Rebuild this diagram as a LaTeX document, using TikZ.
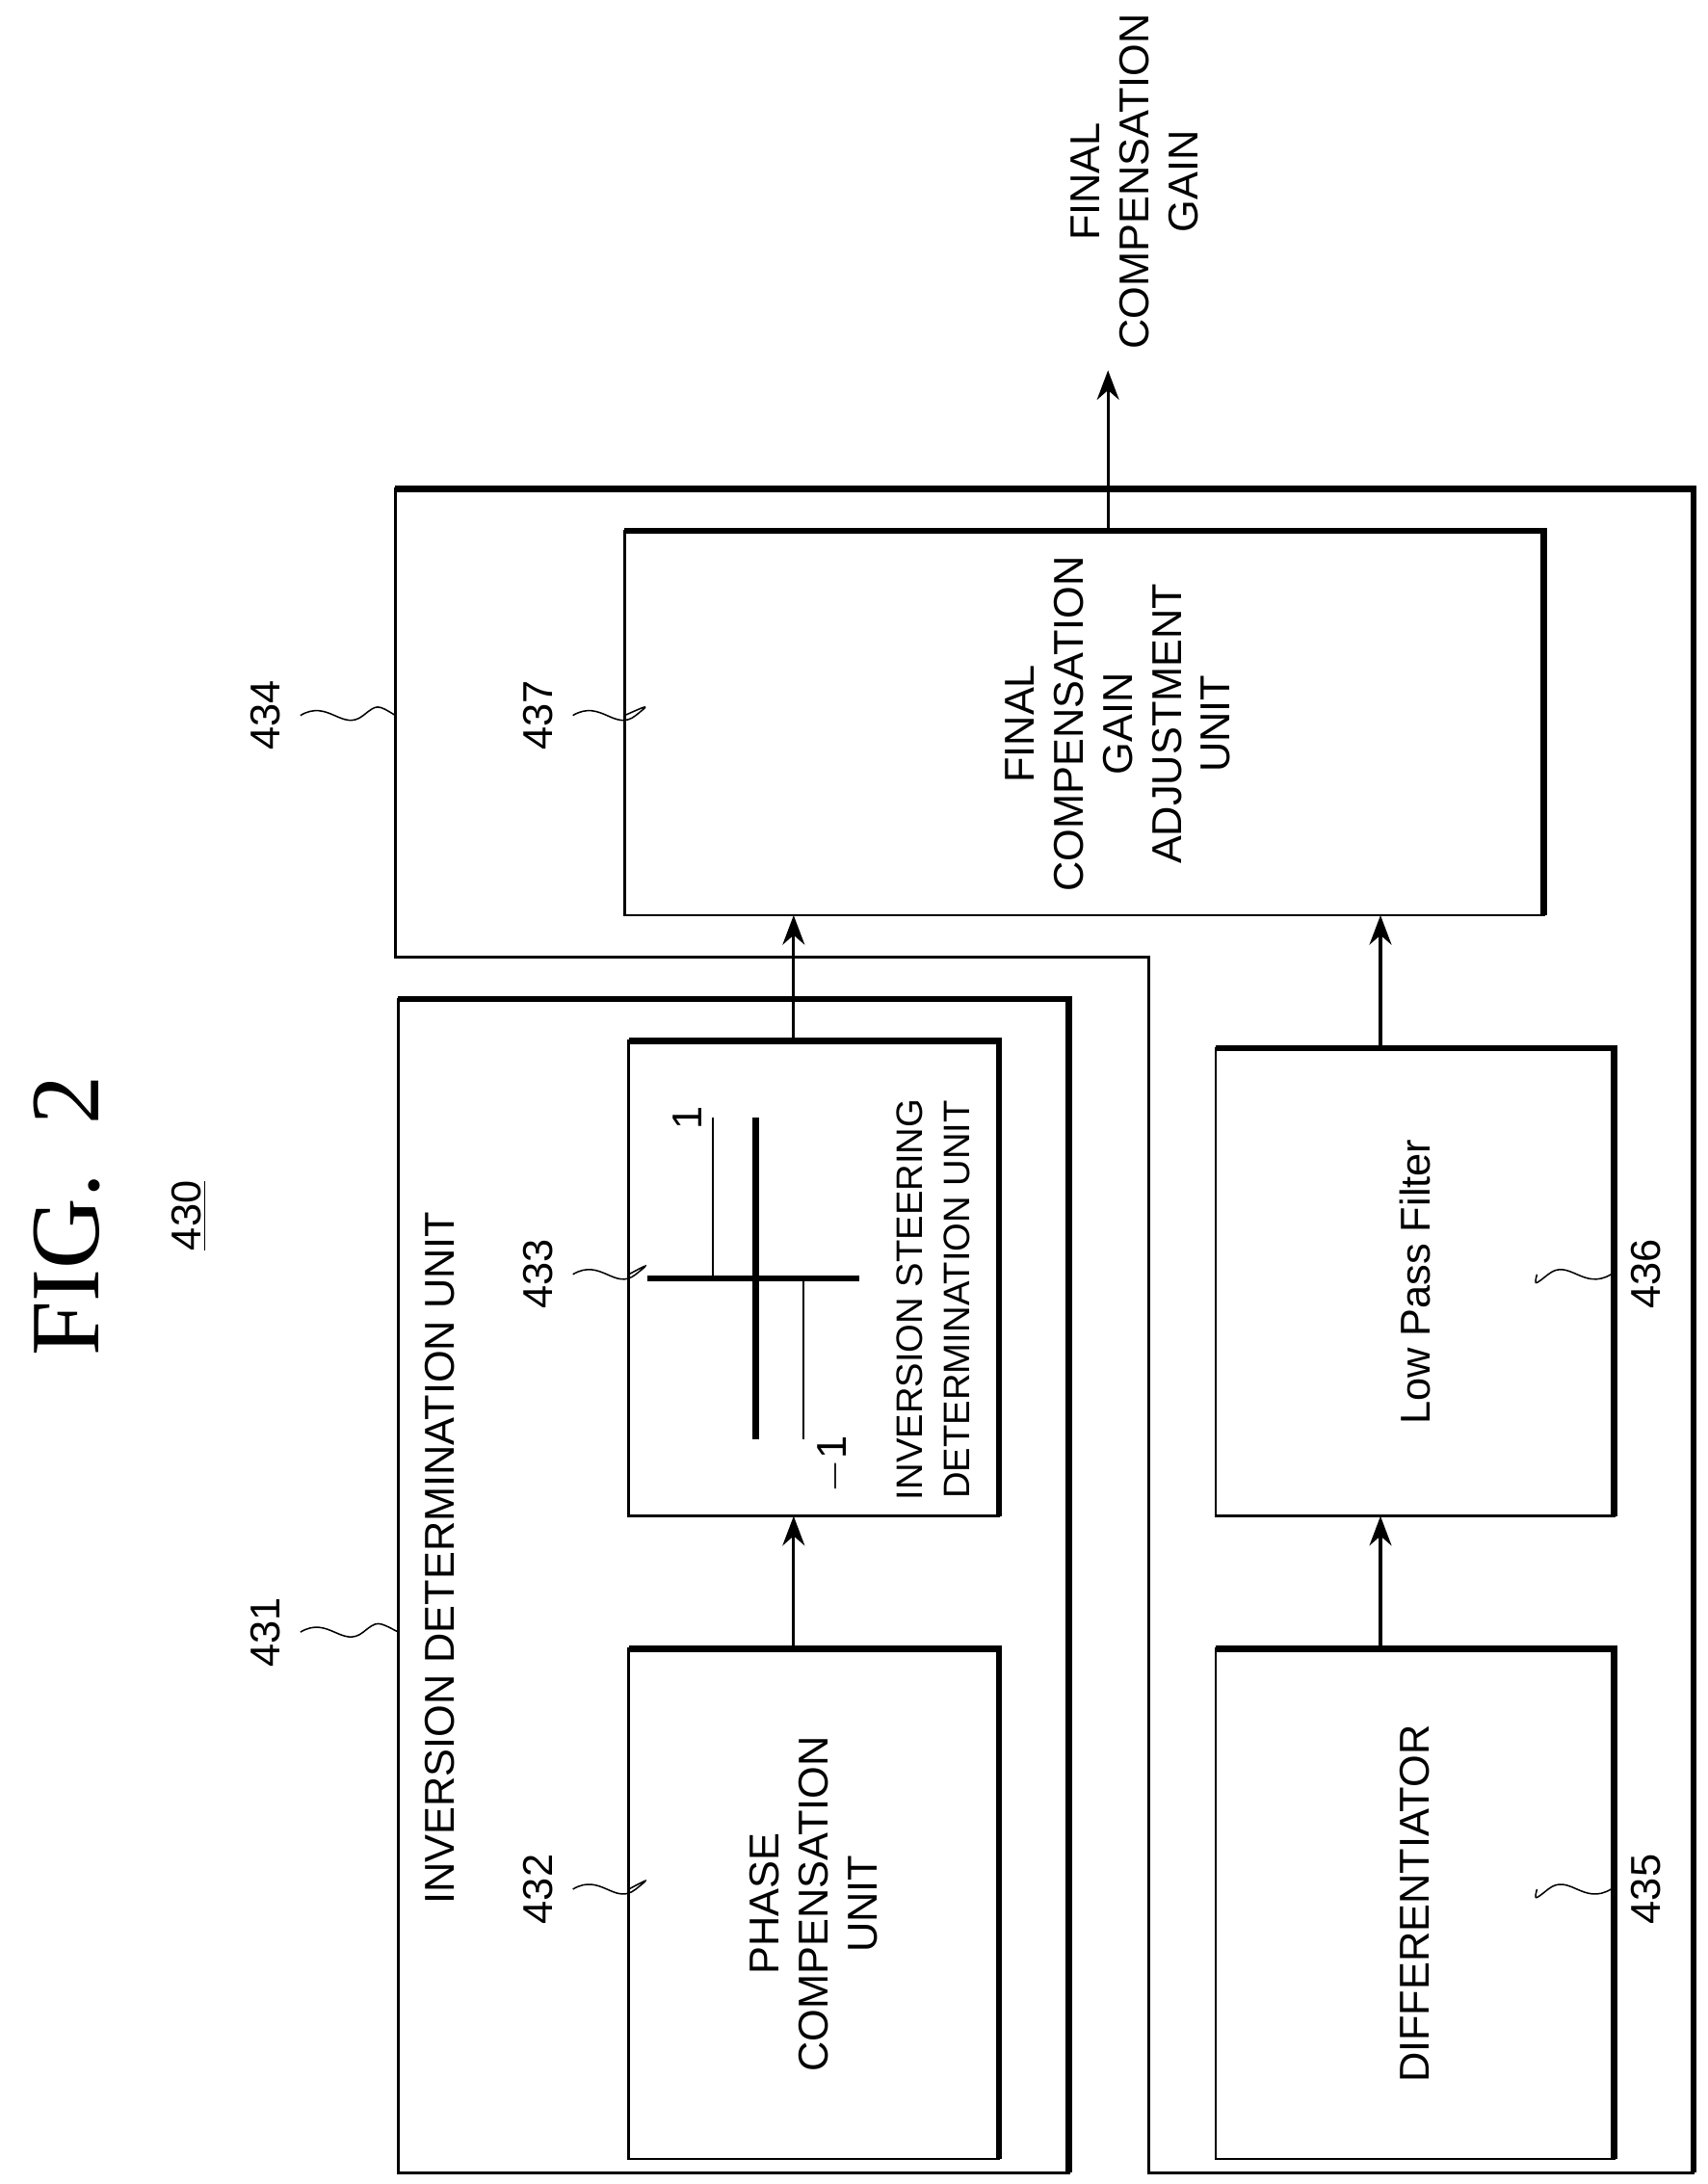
\documentclass[tikz,border=0pt]{standalone}
\usepackage{fontspec}
\setmainfont{Liberation Sans}
\newfontfamily\figfont{Liberation Serif}
\usetikzlibrary{arrows.meta}
\tikzset{
  lbl/.style={rotate=90, font=\fontsize{17}{20}\selectfont, align=center, inner sep=0pt},
  thin box/.style={line width=1pt},
  shade/.style={line width=2.6pt},
  flow/.style={line width=1.3pt, -{Stealth[length=12pt,width=9pt]}},
  squig/.style={line width=0.6pt}
}
\newcommand{\blockbox}[5]{%
  \draw[thin box] (#1,#2) rectangle (#3,#4);
  \draw[shade] (#1,#2) -- (#3,#2) -- (#3,#4);
  \coordinate (#5) at ({(#1+#3)/2},{(#2+#4)/2});}
\begin{document}
\begin{tikzpicture}[x=0.02cm, y=-0.02cm]
\useasboundingbox (0,0) rectangle (1222,1563);

% title
\node[rotate=90, font=\figfont\fontsize{40}{44}\selectfont] (fig) at (48,870) {FIG.\ \ 2};
\node[lbl] (ref) at (135,870) {\underline{430}};

% inversion determination unit
\blockbox{285}{715}{765}{1555}{inv}
\node[lbl] (invtxt) at (315,1115) {INVERSION DETERMINATION UNIT};
\blockbox{450}{1180}{715}{1545}{phase}
\node[lbl] (phasetxt) at (phase) {PHASE\\COMPENSATION\\UNIT};
\blockbox{450}{745}{715}{1085}{steer}
\node[lbl, font=\fontsize{15}{19}\selectfont] (steertxt) at (668,930) {INVERSION STEERING\\DETERMINATION UNIT};

% step graph
\draw[line width=2.6pt] (463,915) -- (615,915);
\draw[line width=2.6pt] (541,800) -- (541,1030);
\draw[line width=0.8pt] (510,800) -- (510,915);
\draw[line width=0.8pt] (575,915) -- (575,1030);
\node[lbl] (one) at (492,800) {1};
\node[lbl] (mone) at (597,1048) {$-$1};

% L-shaped block 434
\draw[thin box] (283,350) -- (1212,350) -- (1212,1555) -- (822,1555) -- (822,685) -- (283,685) -- cycle;
\draw[shade] (283,350) -- (1212,350) -- (1212,1555);

\blockbox{447}{380}{1105}{655}{final}
\node[lbl] (finaltxt) at (800,518) {FINAL\\COMPENSATION\\GAIN\\ADJUSTMENT\\UNIT};
\blockbox{870}{1180}{1155}{1545}{diff}
\node[lbl] (difftxt) at (diff) {DIFFERENTIATOR};
\blockbox{870}{750}{1155}{1085}{lpf}
\node[lbl] (lpftxt) at (lpf) {Low Pass Filter};

% connectors
\draw[flow] (568,1180) -- (568,1085);
\draw[flow] (568,745) -- (568,655);
\draw[flow] (988,1180) -- (988,1085);
\draw[flow] (988,750) -- (988,655);
\coordinate (out) at (793,265);
\draw[flow] (793,380) -- (out);
\node[lbl] (outtxt) at (812,130) {FINAL\\COMPENSATION\\GAIN};

% reference numerals
\foreach \num/\px/\py/\ex in {431/190/1168/285, 434/190/512/283, 432/385/1352/450, 433/385/912/450, 437/385/512/447}{
  \node[lbl] (n\num) at (\px,\py) {\num};
  \draw[squig] (\px+25,\py) .. controls (\px+45,\py-12) and (\px+55,\py+12) .. (\px+70,\py) .. controls (\px+80,\py-8) .. (\ex,\py);
}
\foreach \num/\px/\py in {435/1178/1352, 436/1178/912}{
  \node[lbl] (n\num) at (\px,\py) {\num};
  \draw[squig] (\px-25,\py) .. controls (\px-45,\py+12) and (\px-55,\py-12) .. (\px-70,\py) .. controls (\px-80,\py+8) .. (1100,\py);
}
\end{tikzpicture}
\end{document}
